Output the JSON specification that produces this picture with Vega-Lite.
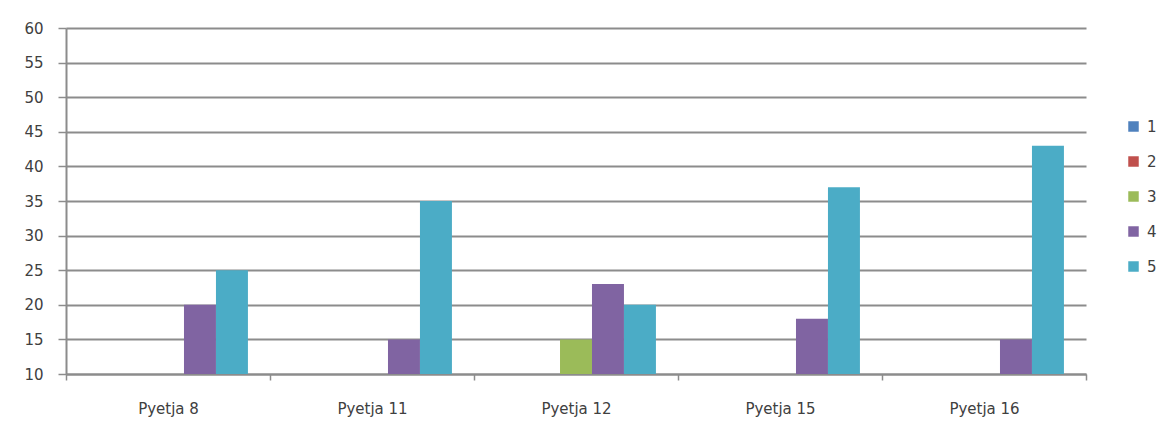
{
  "$schema": "https://vega.github.io/schema/vega-lite/v6.json",
  "autosize": {"type": "none"},
  "width": 1020,
  "height": 346,
  "padding": {"left": 66, "top": 28, "right": 81, "bottom": 50},
  "background": "white",
  "config": {
    "font": "DejaVu Sans",
    "view": {"stroke": null}
  },
  "data": {
    "values": [
      {"q": "Pyetja 8", "s": "1", "v": 0},
      {"q": "Pyetja 8", "s": "2", "v": 0},
      {"q": "Pyetja 8", "s": "3", "v": 0},
      {"q": "Pyetja 8", "s": "4", "v": 20},
      {"q": "Pyetja 8", "s": "5", "v": 25},
      {"q": "Pyetja 11", "s": "1", "v": 0},
      {"q": "Pyetja 11", "s": "2", "v": 0},
      {"q": "Pyetja 11", "s": "3", "v": 0},
      {"q": "Pyetja 11", "s": "4", "v": 15},
      {"q": "Pyetja 11", "s": "5", "v": 35},
      {"q": "Pyetja 12", "s": "1", "v": 0},
      {"q": "Pyetja 12", "s": "2", "v": 0},
      {"q": "Pyetja 12", "s": "3", "v": 15},
      {"q": "Pyetja 12", "s": "4", "v": 23},
      {"q": "Pyetja 12", "s": "5", "v": 20},
      {"q": "Pyetja 15", "s": "1", "v": 0},
      {"q": "Pyetja 15", "s": "2", "v": 0},
      {"q": "Pyetja 15", "s": "3", "v": 0},
      {"q": "Pyetja 15", "s": "4", "v": 18},
      {"q": "Pyetja 15", "s": "5", "v": 37},
      {"q": "Pyetja 16", "s": "1", "v": 0},
      {"q": "Pyetja 16", "s": "2", "v": 0},
      {"q": "Pyetja 16", "s": "3", "v": 0},
      {"q": "Pyetja 16", "s": "4", "v": 15},
      {"q": "Pyetja 16", "s": "5", "v": 43}
    ]
  },
  "mark": {"type": "bar", "clip": true},
  "encoding": {
    "x": {
      "field": "q", "type": "nominal", "sort": null,
      "scale": {"paddingInner": 0, "paddingOuter": 0},
      "axis": {
        "title": null, "labelAngle": 0, "labelFontSize": 15, "labelColor": "#404040",
        "labelPadding": 21, "tickBand": "extent", "tickSize": 6, "tickColor": "#8c8c8c",
        "domainColor": "#8c8c8c", "domainWidth": 2, "tickWidth": 1.5, "grid": false
      }
    },
    "xOffset": {
      "field": "s", "type": "nominal",
      "scale": {"paddingInner": 0, "paddingOuter": 0.69}
    },
    "y": {
      "field": "v", "type": "quantitative",
      "scale": {"domain": [10, 60], "zero": false, "nice": false},
      "axis": {
        "title": null, "values": [10, 15, 20, 25, 30, 35, 40, 45, 50, 55, 60],
        "labelFontSize": 15, "labelColor": "#404040", "labelPadding": 15,
        "tickSize": 8, "tickColor": "#8c8c8c", "tickWidth": 1.5,
        "domainColor": "#8c8c8c", "domainWidth": 2,
        "grid": true, "gridColor": "#8c8c8c", "gridWidth": 2
      }
    },
    "color": {
      "field": "s", "type": "nominal",
      "scale": {"domain": ["1", "2", "3", "4", "5"], "range": ["#4F81BD", "#C0504D", "#9BBB59", "#8064A2", "#4BACC6"]},
      "legend": {
        "title": null, "orient": "none", "legendX": 1060, "legendY": 91,
        "symbolType": "square", "symbolSize": 110, "symbolStrokeWidth": 0,
        "labelFontSize": 15, "labelColor": "#404040", "rowPadding": 19, "labelOffset": 6
      }
    }
  }
}
